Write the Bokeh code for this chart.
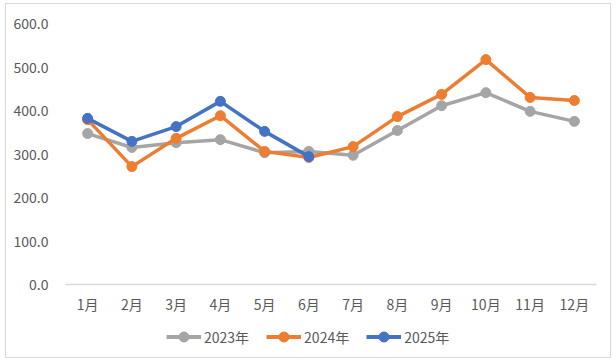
from bokeh.plotting import figure
from bokeh.models import Legend, LegendItem, NumeralTickFormatter, FactorRange
from bokeh.layouts import column
from bokeh.embed import file_html
from bokeh.resources import INLINE

months = ["1月", "2月", "3月", "4月", "5月", "6月", "7月", "8月", "9月", "10月", "11月", "12月"]
y2023 = [347, 315, 326, 333, 303, 306, 297, 354, 411, 441, 398, 375]
y2024 = [379, 271, 336, 388, 306, 292, 317, 386, 437, 517, 430, 423]
months_2025 = months[:6]
y2025 = [382, 329, 363, 421, 352, 294]
y_ticks = [0, 100, 200, 300, 400, 500, 600]

FONT = "Noto Sans CJK SC"
TXT = "#595959"

p = figure(width=604, height=312, x_range=FactorRange(*months), y_range=(0, 600),
           output_backend="svg", toolbar_location=None,
           min_border_left=59, min_border_right=14, min_border_top=19, min_border_bottom=28)
p.outline_line_color = None
p.xgrid.grid_line_color = None
p.ygrid.grid_line_color = None

p.yaxis.ticker = y_ticks
p.yaxis.formatter = NumeralTickFormatter(format="0.0")
p.yaxis.axis_line_color = None
p.yaxis.major_tick_line_color = None
p.yaxis.minor_tick_line_color = None
p.yaxis.major_label_text_color = TXT
p.yaxis.major_label_text_font = FONT
p.yaxis.major_label_text_font_size = "14px"
p.yaxis.major_label_standoff = 11

p.xaxis.axis_line_color = "#d9d9d9"
p.xaxis.axis_line_width = 1.5
p.xaxis.major_tick_line_color = None
p.xaxis.minor_tick_line_color = None
p.xaxis.major_label_text_color = TXT
p.xaxis.major_label_text_font = FONT
p.xaxis.major_label_text_font_size = "14px"
p.xaxis.major_label_standoff = 3

series = [
    ("2023年", months, y2023, "#a5a5a5"),
    ("2024年", months, y2024, "#ed7d31"),
    ("2025年", months_2025, y2025, "#4472c4"),
]
for name, xs, ys, color in series:
    p.line(xs, ys, line_color=color, line_width=3.5)
    p.scatter(xs, ys, size=10, fill_color=color, line_color=color)

# legend strip below the chart (series drawn out of its visible y range)
lg = figure(width=604, height=41, output_backend="svg", toolbar_location=None,
            x_axis_type=None, y_axis_type=None,
            min_border_left=0, min_border_right=0, min_border_top=0, min_border_bottom=0,
            x_range=FactorRange(*months), y_range=(0, 1))
lg.grid.grid_line_color = None
lg.outline_line_color = None
items = []
for name, xs, ys, color in series:
    l = lg.line(xs, ys, line_color=color, line_width=4)
    c = lg.scatter(xs, ys, size=10, fill_color=color, line_color=color)
    items.append(LegendItem(label=name, renderers=[l, c]))
legend = Legend(items=items, orientation="horizontal", location=(101, 8),
                label_text_font=FONT, label_text_font_size="14px",
                label_text_color=TXT, glyph_width=35, glyph_height=25,
                label_standoff=3, spacing=17, border_line_color=None,
                background_fill_alpha=0, padding=0, margin=0)
lg.add_layout(legend)

layout = column(p, lg, spacing=0,
                styles={"border": "1px solid #d9d9d9", "margin-left": "5px", "margin-top": "3px"})

open("out.html", "w").write(file_html(layout, INLINE))
